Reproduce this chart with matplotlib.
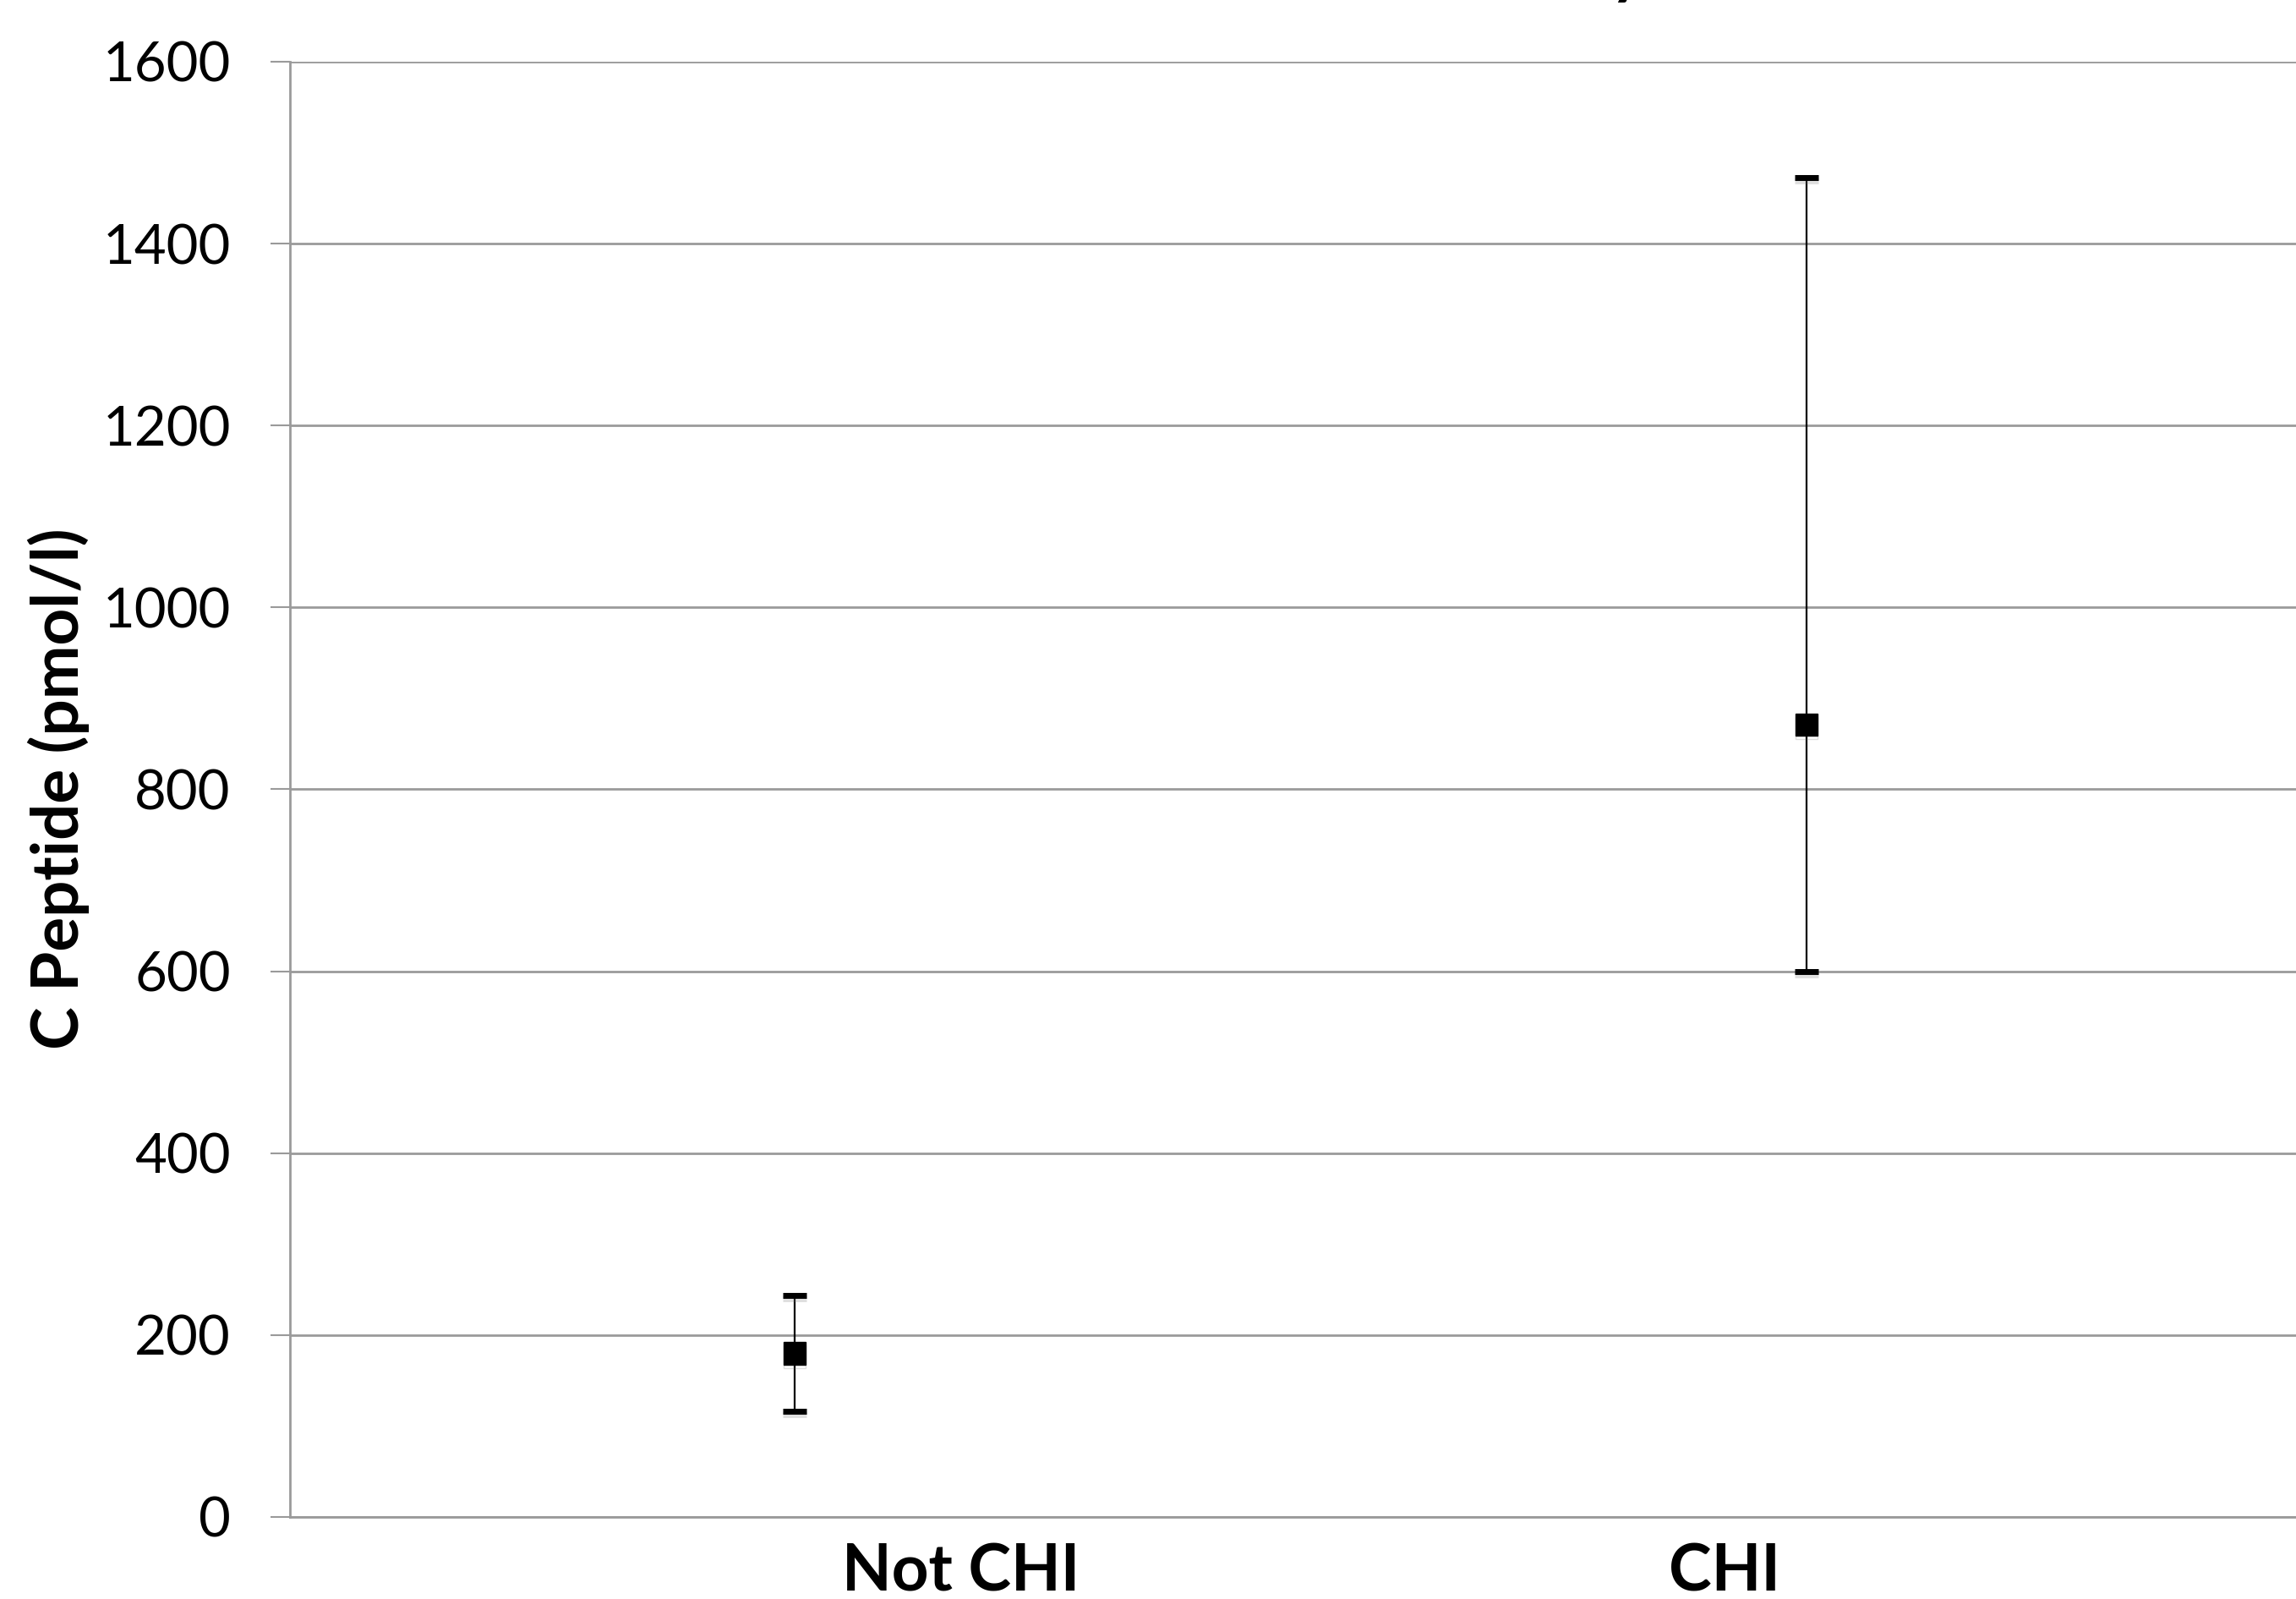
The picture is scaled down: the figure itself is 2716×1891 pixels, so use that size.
import matplotlib.pyplot as plt
import matplotlib.patheffects as pe

plt.rcParams['font.family'] = ['Lato', 'DejaVu Sans']

groups = ['Not CHI', 'CHI']
means = [180, 871]
lower = [116, 600]
upper = [244, 1473]
yticks = [0, 200, 400, 600, 800, 1000, 1200, 1400, 1600]
title = 'Results by CHI Status'

err = [[m - lo for m, lo in zip(means, lower)], [up - m for m, up in zip(means, upper)]]
xpos = list(range(len(groups)))

fig = plt.figure(figsize=(27.16, 18.91), dpi=100)
ax = fig.add_axes([0.1263, 0.0513, 0.8737, 0.9101])

grid_col = '#9a9a9a'
line, caps, bars = ax.errorbar(xpos, means, yerr=err, fmt='s', color='black',
                               markersize=19, ecolor='black', elinewidth=1.6,
                               capsize=10, capthick=5, zorder=3)
shadow = [pe.SimpleLineShadow(offset=(0, -3), alpha=0.25, shadow_color='gray'), pe.Normal()]
line.set_path_effects(shadow)
for c in caps:
    c.set_path_effects(shadow)

ax.set_xlim(-0.4987, 1.4838)
ax.set_ylim(0, 1600)
ax.set_yticks(yticks)
ax.set_yticklabels([str(v) for v in yticks], fontsize=47)
ax.yaxis.grid(True, color=grid_col, linewidth=2)
ax.set_axisbelow(True)
ax.tick_params(axis='y', length=16.6, width=1.5, color=grid_col, pad=34)

# category labels sit a little off the markers, as in the source
ax.set_xticks([0.1646, 0.919])
ax.set_xticklabels(groups, fontsize=55, fontweight='bold')
ax.tick_params(axis='x', length=0, pad=22)

for s in ['top', 'right']:
    ax.spines[s].set_visible(False)
for s in ['left', 'bottom']:
    ax.spines[s].set_color(grid_col)
    ax.spines[s].set_linewidth(2)

fig.text(69 / 2716, 1 - 933 / 1891, 'C Peptide (pmol/l)', rotation=90,
         ha='center', va='center', fontsize=55, fontweight='bold')

# title sits above the canvas; only the tail of the "y" shows at the top edge
r = fig.canvas.get_renderer()
probe = fig.text(0, 0, title[:title.index('y')], fontsize=55, fontweight='bold')
pre_w = probe.get_window_extent(r).width
probe.remove()
fig.text((1905 - pre_w) / 2716, 1.0055, title, ha='left', va='baseline',
         fontsize=55, fontweight='bold')

fig.savefig('out.png', dpi=100)
